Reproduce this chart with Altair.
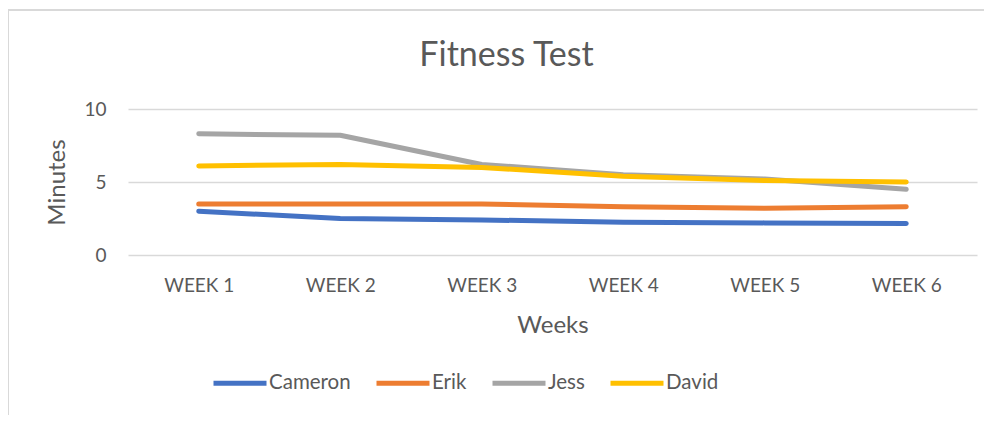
import altair as alt
import pandas as pd

weeks = ["WEEK 1", "WEEK 2", "WEEK 3", "WEEK 4", "WEEK 5", "WEEK 6"]
names = ["Cameron", "Erik", "Jess", "David"]
cameron = [3.0, 2.5, 2.4, 2.25, 2.2, 2.15]
erik = [3.5, 3.5, 3.5, 3.3, 3.2, 3.3]
jess = [8.3, 8.2, 6.2, 5.5, 5.2, 4.5]
david = [6.1, 6.2, 6.0, 5.4, 5.1, 5.0]
colors = ["#4472C4", "#ED7D31", "#A5A5A5", "#FFC000"]

rows = []
for name, vals in zip(names, [cameron, erik, jess, david]):
    for w, v in zip(weeks, vals):
        rows.append({"Week": w, "Name": name, "Minutes": v})
df = pd.DataFrame(rows)

FONT = "Lato"
TXT = "#595959"
GRID = "#D9D9D9"

lines = alt.Chart(df).mark_line(strokeWidth=5, strokeCap="round", strokeJoin="round").encode(
    x=alt.X("Week:N", sort=weeks,
            scale=alt.Scale(type="point", padding=0.5),
            axis=alt.Axis(title="Weeks", labelAngle=0, labelFontSize=19, labelColor=TXT,
                          labelFont=FONT, labelPadding=21, titleFont=FONT, titleFontSize=24,
                          titleColor=TXT, titleFontWeight="normal", titlePadding=18,
                          domain=False, ticks=False, grid=False)),
    y=alt.Y("Minutes:Q",
            scale=alt.Scale(domain=[0, 10], nice=False),
            axis=alt.Axis(title="Minutes", values=[0, 5, 10], labelFontSize=19, labelColor=TXT,
                          labelFont=FONT, labelPadding=22, titleFont=FONT, titleFontSize=24,
                          titleColor=TXT, titleFontWeight="normal", titlePadding=14,
                          domain=False, ticks=False, grid=True, gridColor=GRID, gridWidth=1.3)),
    color=alt.Color("Name:N", sort=names,
                    scale=alt.Scale(domain=names, range=colors),
                    legend=alt.Legend(title=None, orient="none", direction="horizontal",
                                      legendX=83, legendY=245,
                                      symbolType="stroke", symbolSize=2809, symbolStrokeWidth=5,
                                      labelFontSize=20.5, labelColor=TXT, labelFont=FONT,
                                      labelOffset=0, columnPadding=15)),
    order=alt.Order("Week:N"),
)

border_left = alt.Chart(df).mark_rule(color=GRID, strokeWidth=2).encode(
    x=alt.value(-120), y=alt.value(-99), y2=alt.value(320))
border_top = alt.Chart(df).mark_rule(color=GRID, strokeWidth=1.5).encode(
    x=alt.value(-120), x2=alt.value(880), y=alt.value(-99))

chart = alt.layer(border_left, border_top, lines).properties(
    width=849, height=146,
    title=alt.TitleParams("Fitness Test", font=FONT, fontSize=34, fontWeight="normal",
                          color=TXT, anchor="middle", frame="group", dx=-46, offset=-64),
    autosize=alt.AutoSizeParams(type="none"),
    padding={"left": 120, "top": 101, "right": 7, "bottom": 160},
).configure_view(stroke=None)

chart.save("out.html", embed_options={"renderer": "svg", "actions": False})
